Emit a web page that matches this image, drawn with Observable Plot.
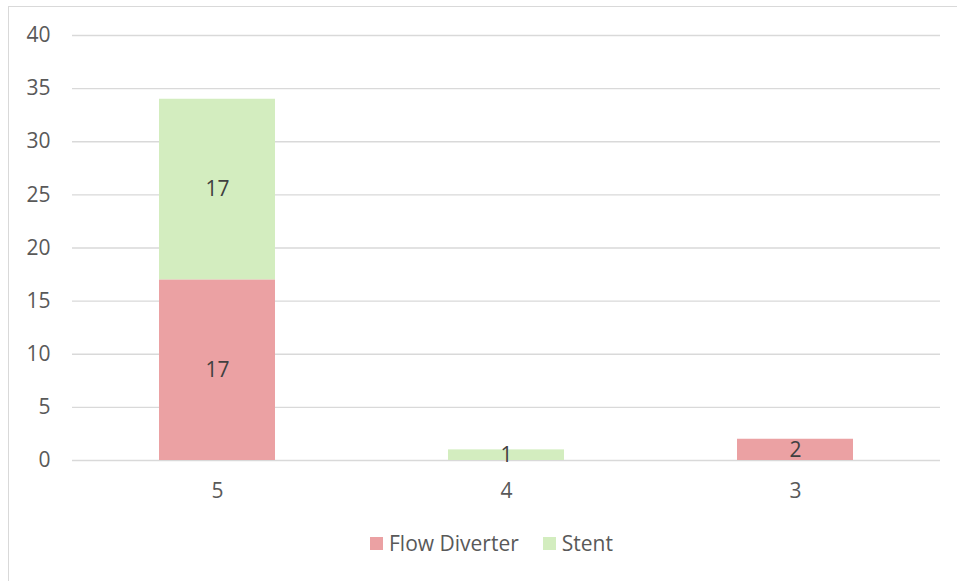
<!DOCTYPE html>
<html>
<head>
<meta charset="utf-8">
<script src="https://cdn.jsdelivr.net/npm/d3@7"></script>
<script src="https://cdn.jsdelivr.net/npm/@observablehq/plot@0.6"></script>
<style>
  body { margin: 0; background: #fff; font-family: "Open Sans", Lato, sans-serif; }
  #wrap { position: relative; width: 957px; height: 581px; overflow: hidden; }
  #frame { position: absolute; left: 8px; top: 6px; right: -2px; bottom: -2px; border-left: 1px solid #d9d9d9; border-top: 1px solid #d9d9d9; }
  #chart { position: absolute; left: 0; top: 0; }
  #legend { position: absolute; top: 529px; left: 370px; display: flex; gap: 24px; font-size: 21px; color: #595959; }
  .item { display: flex; align-items: center; gap: 6px; }
  .sw { width: 13px; height: 13px; display: inline-block; }
</style>
</head>
<body>
<div id="wrap">
  <div id="frame"></div>
  <div id="chart"></div>
  <div id="legend"></div>
</div>
<script>
const categories = ["5", "4", "3"];
const flowDiverter = [17, 0, 2];
const stent = [17, 1, 0];
const seriesNames = ["Flow Diverter", "Stent"];
const seriesColors = ["#eba1a3", "#d3edbf"];
const yTicks = [0, 5, 10, 15, 20, 25, 30, 35, 40];

const rows = [];
categories.forEach((c, i) => {
  rows.push({cat: c, series: seriesNames[0], value: flowDiverter[i]});
  rows.push({cat: c, series: seriesNames[1], value: stent[i]});
});

const font = "'Open Sans', Lato, sans-serif";
const plot = Plot.plot({
  width: 957,
  height: 520,
  marginLeft: 72,
  marginRight: 17,
  marginTop: 35,
  marginBottom: 60,
  style: {fontFamily: font, fontSize: "21px", color: "#595959", background: "transparent"},
  x: {domain: categories, paddingInner: 0.6, paddingOuter: 0.3, label: null},
  y: {domain: [0, 40], label: null},
  color: {domain: seriesNames, range: seriesColors},
  marks: [
    Plot.gridY(yTicks, {stroke: "#d9d9d9", strokeOpacity: 1, strokeWidth: 1.3}),
    Plot.barY(rows, Plot.stackY({x: "cat", y: "value", fill: "series", order: seriesNames})),
    Plot.textY(rows, Plot.stackY({filter: d => d.value > 0, x: "cat", y: "value", z: "series", order: seriesNames, text: d => String(d.value), fill: "#404040", fontSize: 21})),
    Plot.axisX({tickSize: 0, tickPadding: 23, fontSize: 21}),
    Plot.axisY({ticks: yTicks, tickSize: 0, tickPadding: 22, fontSize: 21})
  ]
});
document.getElementById("chart").appendChild(plot);

const legend = document.getElementById("legend");
seriesNames.forEach((n, i) => {
  const it = document.createElement("div");
  it.className = "item";
  const sw = document.createElement("span");
  sw.className = "sw";
  sw.style.background = seriesColors[i];
  const t = document.createElement("span");
  t.textContent = n;
  it.appendChild(sw);
  it.appendChild(t);
  legend.appendChild(it);
});
</script>
</body>
</html>
